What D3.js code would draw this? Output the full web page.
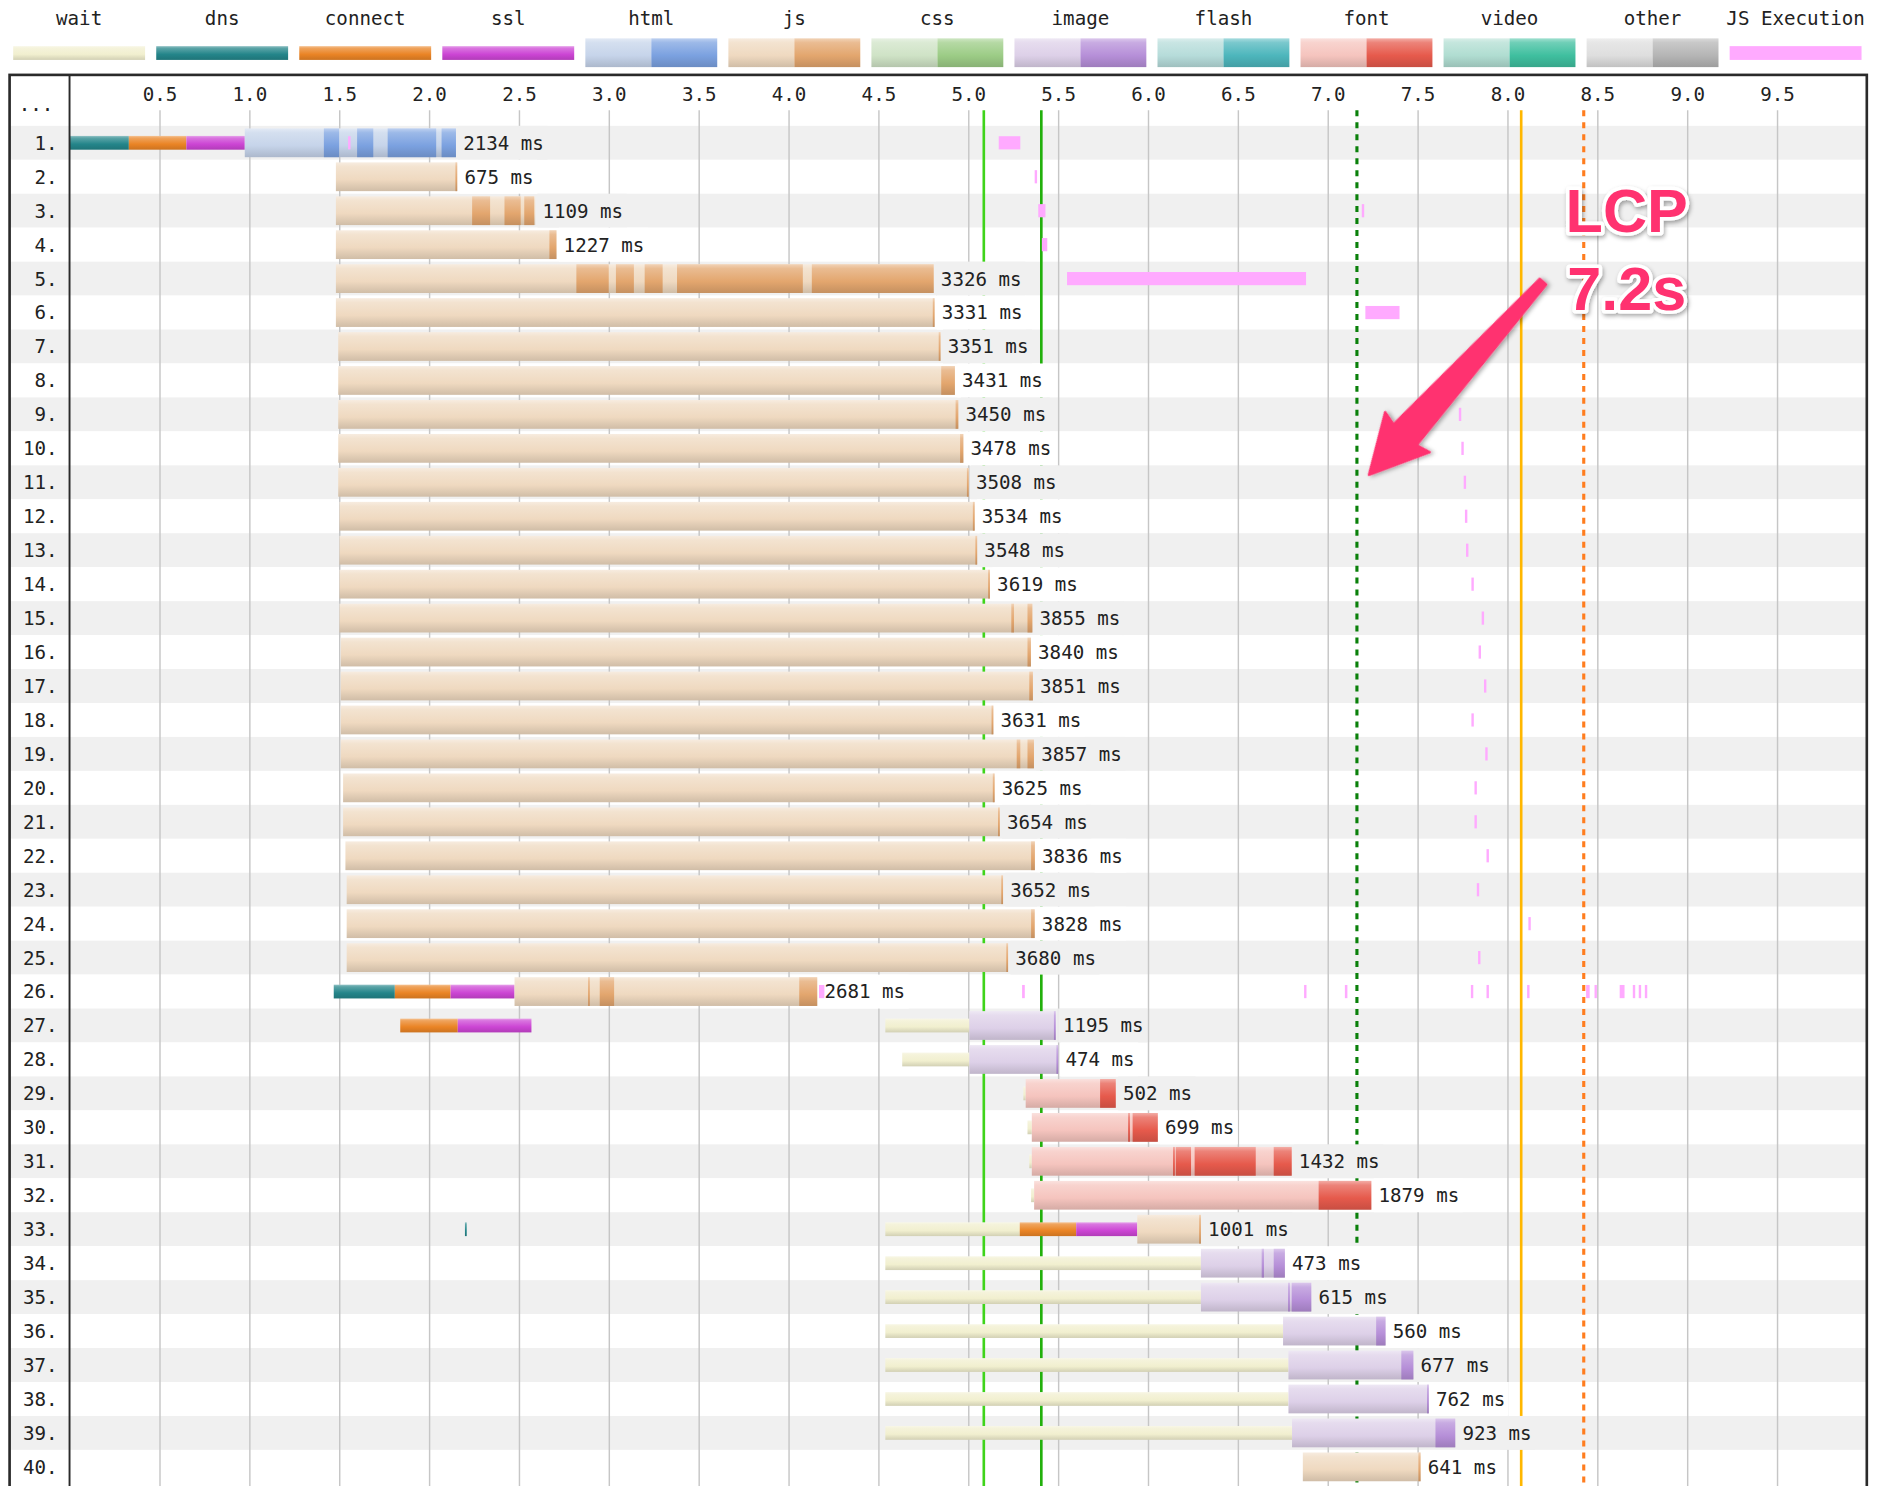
<!DOCTYPE html>
<html>
<head>
<meta charset="utf-8">
<script src="https://cdn.jsdelivr.net/npm/d3@7"></script>
<style>
  body { margin: 0; background: #fff; }
  text { font-family: "DejaVu Sans Mono", "Liberation Mono", monospace; }
</style>
</head>
<body>
<svg id="chart"></svg>
<script>
// ---- data (times in seconds) ----
const rows = d3.range(1, 41);
const totalMs = [2134, 675, 1109, 1227, 3326, 3331, 3351, 3431, 3450, 3478,
                 3508, 3534, 3548, 3619, 3855, 3840, 3851, 3631, 3857, 3625,
                 3654, 3836, 3652, 3828, 3680, 2681, 1195, 474, 502, 699,
                 1432, 1879, 1001, 473, 615, 560, 677, 762, 923, 641];
const tickValues = [0.5, 1.0, 1.5, 2.0, 2.5, 3.0, 3.5, 4.0, 4.5, 5.0, 5.5, 6.0, 6.5, 7.0, 7.5, 8.0, 8.5, 9.0, 9.5];
const legendKeys = ["wait", "dns", "connect", "ssl", "html", "js", "css", "image", "flash", "font", "video", "other", "JS Execution"];

// [row, start, end]
const waitTimes = [
  [27, 4.539, 5.007], [28, 4.633, 5.007], [29, 5.307, 5.32], [30, 5.33, 5.354], [31, 5.34, 5.354], [32, 5.35, 5.367],
  [33, 4.539, 5.287], [34, 4.539, 6.295], [35, 4.539, 6.295], [36, 4.539, 6.752], [37, 4.539, 6.782],
  [38, 4.539, 6.782], [39, 4.539, 6.802]
];
const dnsTimes = [[1, 0, 0.33], [26, 1.47, 1.81], [33, 2.2, 2.206]];
const connectTimes = [[1, 0.33, 0.65], [26, 1.81, 2.12], [27, 1.84, 2.16], [33, 5.287, 5.601]];
const sslTimes = [[1, 0.65, 0.975], [26, 2.12, 2.476], [27, 2.16, 2.57], [33, 5.601, 5.941]];

// [row, type, start, end]
const downloads = [
  [1, "html", 0.975, 2.15], [2, "js", 1.482, 2.157], [3, "js", 1.482, 2.591], [4, "js", 1.482, 2.709],
  [5, "js", 1.482, 4.808], [6, "js", 1.482, 4.813], [7, "js", 1.495, 4.846], [8, "js", 1.495, 4.926],
  [9, "js", 1.495, 4.945], [10, "js", 1.495, 4.973], [11, "js", 1.495, 5.003], [12, "js", 1.502, 5.036],
  [13, "js", 1.502, 5.05], [14, "js", 1.502, 5.121], [15, "js", 1.502, 5.357], [16, "js", 1.509, 5.349],
  [17, "js", 1.509, 5.36], [18, "js", 1.509, 5.14], [19, "js", 1.509, 5.366], [20, "js", 1.522, 5.147],
  [21, "js", 1.522, 5.176], [22, "js", 1.535, 5.371], [23, "js", 1.542, 5.194], [24, "js", 1.542, 5.37],
  [25, "js", 1.542, 5.222], [26, "js", 2.476, 4.16], [27, "image", 5.007, 5.487], [28, "image", 5.007, 5.501],
  [29, "font", 5.32, 5.821], [30, "font", 5.354, 6.055], [31, "font", 5.354, 6.80], [32, "font", 5.367, 7.243],
  [33, "js", 5.941, 6.295], [34, "image", 6.295, 6.762], [35, "image", 6.295, 6.909], [36, "image", 6.752, 7.322],
  [37, "image", 6.782, 7.477], [38, "image", 6.782, 7.563], [39, "image", 6.802, 7.71], [40, "js", 6.862, 7.517]
];

// data chunks (dark shade) [row, start, end]
const chunks = [
  [1, 1.415, 1.50], [1, 1.60, 1.69], [1, 1.77, 2.04], [1, 2.07, 2.15],
  [2, 2.147, 2.157], [3, 2.24, 2.34], [3, 2.42, 2.51], [3, 2.53, 2.585], [4, 2.67, 2.709],
  [5, 2.82, 3.0], [5, 3.04, 3.14], [5, 3.2, 3.3], [5, 3.38, 4.08], [5, 4.13, 4.808],
  [6, 4.803, 4.813], [7, 4.836, 4.846], [8, 4.85, 4.926], [9, 4.93, 4.945], [10, 4.955, 4.973],
  [11, 4.993, 5.003], [12, 5.026, 5.036], [13, 5.04, 5.05], [14, 5.111, 5.121],
  [15, 5.24, 5.255], [15, 5.33, 5.357], [16, 5.33, 5.349], [17, 5.34, 5.36], [18, 5.13, 5.14],
  [19, 5.27, 5.29], [19, 5.33, 5.366], [20, 5.137, 5.147], [21, 5.166, 5.176], [22, 5.35, 5.371],
  [23, 5.184, 5.194], [24, 5.35, 5.37], [25, 5.212, 5.222],
  [26, 2.885, 2.895], [26, 2.95, 3.03], [26, 4.06, 4.16],
  [27, 5.477, 5.487], [28, 5.491, 5.501], [29, 5.734, 5.821],
  [30, 5.89, 5.90], [30, 5.915, 6.055],
  [31, 6.14, 6.15], [31, 6.155, 6.24], [31, 6.26, 6.60], [31, 6.70, 6.80],
  [32, 6.95, 7.243], [33, 6.285, 6.295], [34, 6.633, 6.646], [34, 6.70, 6.762],
  [35, 6.78, 6.79], [35, 6.80, 6.909], [36, 7.27, 7.322], [37, 7.41, 7.477], [38, 7.553, 7.563],
  [39, 7.60, 7.71], [40, 7.505, 7.517]
];

// JS execution [row, start, end]
const jsExec = [
  [1, 1.55, 1.56], [1, 5.17, 5.29], [2, 5.37, 5.38], [3, 5.39, 5.43], [3, 7.19, 7.2], [4, 5.41, 5.44],
  [5, 5.55, 6.88], [6, 7.21, 7.40], [9, 7.73, 7.74], [10, 7.744, 7.754], [11, 7.757, 7.767],
  [12, 7.764, 7.774], [13, 7.77, 7.775], [14, 7.80, 7.81], [15, 7.857, 7.867], [16, 7.84, 7.85],
  [17, 7.87, 7.88], [18, 7.80, 7.805], [19, 7.877, 7.887], [20, 7.817, 7.825], [21, 7.817, 7.825],
  [22, 7.884, 7.89], [23, 7.83, 7.836], [24, 8.117, 8.12], [25, 7.837, 7.845],
  [26, 4.17, 4.20], [26, 5.30, 5.315], [26, 6.869, 6.874], [26, 7.096, 7.11], [26, 7.797, 7.80],
  [26, 7.884, 7.887], [26, 8.11, 8.113], [26, 8.438, 8.458], [26, 8.485, 8.49], [26, 8.625, 8.652],
  [26, 8.698, 8.702], [26, 8.731, 8.735], [26, 8.765, 8.772]
];

const markerTimes = [5.087, 5.407, 7.163, 8.077, 8.425];
const markerColors = ["#3fd41a", "#22b00c", "#0a800a", "#ffb700", "#ff7d1f"];
const markerDashed = [false, false, true, false, true];

// ---- colours ----
const baseColors = {
  wait: ["#f1efcf"], dns: ["#24858a"], connect: ["#ea8425"], ssl: ["#cc45d4"],
  html: ["#c6d4ea", "#7ba1e0"], js: ["#efd9c0", "#e3a66e"], css: ["#cfe3c6", "#9ccc86"],
  image: ["#ddd0e8", "#b68fd8"], flash: ["#b6dcda", "#4db6bc"], font: ["#f5c4be", "#e65a4c"],
  video: ["#b0ddd1", "#3fbf9f"], other: ["#dedede", "#b5b5b5"]
};
const jsExecColor = "#ffaaff";

// ---- layout (drawn in a 1568x1240 frame, scaled to the window) ----
const W = 1568, H = 1240;
const svg = d3.select("#chart")
  .attr("width", 1880).attr("height", 1486)
  .attr("viewBox", `0 0 ${W} ${H}`)
  .attr("preserveAspectRatio", "none");

const defs = svg.append("defs");
function addGrad(id, base) {
  const g = defs.append("linearGradient").attr("id", id)
    .attr("x1", 0).attr("y1", 0).attr("x2", 0).attr("y2", 1);
  g.append("stop").attr("offset", 0).attr("stop-color", d3.interpolateRgb(base, "#fff")(0.5));
  g.append("stop").attr("offset", 0.15).attr("stop-color", d3.interpolateRgb(base, "#fff")(0.25));
  g.append("stop").attr("offset", 0.6).attr("stop-color", base);
  g.append("stop").attr("offset", 1).attr("stop-color", d3.interpolateRgb(base, "#000")(0.13));
}
Object.entries(baseColors).forEach(([k, c]) => {
  if (c.length === 1) addGrad("g-" + k, c[0]);
  else { addGrad("g-" + k + "-l", c[0]); addGrad("g-" + k + "-d", c[1]); }
});
const shadow = defs.append("filter").attr("id", "shadow")
  .attr("x", "-20%").attr("y", "-20%").attr("width", "140%").attr("height", "140%");
shadow.append("feDropShadow").attr("dx", 1).attr("dy", 2).attr("stdDeviation", 1.6)
  .attr("flood-color", "#000").attr("flood-opacity", 0.35);

const x = d3.scaleLinear().domain([0, 10]).range([58, 1557]);
const y = d3.scaleBand().domain(rows).range([105, 105 + 40 * 28.33]);
const bw = y.bandwidth();
const thinH = 11.5, thickH = 24;

// legend
const legend = svg.append("g");
legendKeys.forEach((k, i) => {
  const gx = 11 + i * 119.3, w = 110;
  legend.append("text").attr("x", gx + w / 2).attr("y", 21)
    .attr("text-anchor", "middle").attr("font-size", 16).attr("fill", "#222").text(k);
  const c = baseColors[k];
  if (!c) {
    legend.append("rect").attr("x", gx).attr("y", 38.5).attr("width", w).attr("height", thinH).attr("fill", jsExecColor);
  } else if (c.length === 1) {
    legend.append("rect").attr("x", gx).attr("y", 38.5).attr("width", w).attr("height", thinH).attr("fill", `url(#g-${k})`);
  } else {
    legend.append("rect").attr("x", gx).attr("y", 32).attr("width", w / 2).attr("height", 24).attr("fill", `url(#g-${k}-l)`);
    legend.append("rect").attr("x", gx + w / 2).attr("y", 32).attr("width", w / 2).attr("height", 24).attr("fill", `url(#g-${k}-d)`);
  }
});

// row bands
svg.append("g").selectAll("rect").data(rows).join("rect")
  .attr("x", 8).attr("width", 1549)
  .attr("y", d => y(d)).attr("height", bw)
  .attr("fill", d => d % 2 ? "#f0f0f0" : "#fff");

// time axis + gridlines
const axis = d3.axisBottom(x).tickValues(tickValues).tickSize(H - 92).tickFormat(d3.format(".1f"));
const ag = svg.append("g").attr("transform", "translate(0,92)").call(axis)
  .attr("font-family", null).attr("font-size", null);
ag.select(".domain").remove();
ag.selectAll(".tick line").attr("stroke", "#c6c6c6").attr("stroke-width", 1.2);
ag.selectAll(".tick text").attr("y", -8).attr("dy", 0).attr("font-size", 16).attr("fill", "#222");

// event markers
svg.append("g").selectAll("line").data(markerTimes).join("line")
  .attr("x1", d => x(d)).attr("x2", d => x(d))
  .attr("y1", 92).attr("y2", H)
  .attr("stroke", (d, i) => markerColors[i])
  .attr("stroke-width", (d, i) => markerDashed[i] ? 2.6 : 2.2)
  .attr("stroke-dasharray", (d, i) => markerDashed[i] ? "5,5" : null);

// connection phases
const bars = svg.append("g");
function thinBars(data, key) {
  bars.append("g").selectAll("rect").data(data).join("rect")
    .attr("x", d => x(d[1])).attr("width", d => Math.max(1.5, x(d[2]) - x(d[1])))
    .attr("y", d => y(d[0]) + (bw - thinH) / 2).attr("height", thinH)
    .attr("fill", `url(#g-${key})`);
}
thinBars(waitTimes, "wait");
thinBars(dnsTimes, "dns");
thinBars(connectTimes, "connect");
thinBars(sslTimes, "ssl");

// downloads (light) and data chunks (dark)
const rowType = new Map(downloads.map(d => [d[0], d[1]]));
bars.append("g").selectAll("rect").data(downloads).join("rect")
  .attr("x", d => x(d[2])).attr("width", d => x(d[3]) - x(d[2]))
  .attr("y", d => y(d[0]) + (bw - thickH) / 2).attr("height", thickH)
  .attr("fill", d => `url(#g-${d[1]}-l)`);
bars.append("g").selectAll("rect").data(chunks).join("rect")
  .attr("x", d => x(d[1])).attr("width", d => Math.max(1.5, x(d[2]) - x(d[1])))
  .attr("y", d => y(d[0]) + (bw - thickH) / 2).attr("height", thickH)
  .attr("fill", d => `url(#g-${rowType.get(d[0])}-d)`);

// duration labels with background that hides the lines behind them
const allSegs = [...waitTimes, ...dnsTimes, ...connectTimes, ...sslTimes, ...chunks,
  ...downloads.map(d => [d[0], d[2], d[3]])];
const rowEnd = rows.map(r => d3.max(allSegs.filter(s => s[0] === r), s => s[2]));

const labelBg = svg.append("g");
const execLayer = svg.append("g");
const labelTxt = svg.append("g");

const texts = labelTxt.selectAll("text").data(rows).join("text")
  .attr("x", (d, i) => x(rowEnd[i]) + 6)
  .attr("y", d => y(d) + bw / 2).attr("dy", "0.36em")
  .attr("font-size", 16).attr("fill", "#222")
  .text((d, i) => totalMs[i] + " ms");
texts.each(function (d, i) {
  const len = this.getComputedTextLength();
  labelBg.append("rect")
    .attr("x", x(rowEnd[i]) + 2).attr("width", len + 7)
    .attr("y", y(d)).attr("height", bw)
    .attr("fill", d % 2 ? "#f0f0f0" : "#fff");
});

// JS execution
execLayer.selectAll("rect").data(jsExec).join("rect")
  .attr("x", d => x(d[1])).attr("width", d => Math.max(2, x(d[2]) - x(d[1])))
  .attr("y", d => y(d[0]) + (bw - 11) / 2).attr("height", 11)
  .attr("fill", jsExecColor);

// row numbers
svg.append("g").selectAll("text").data(rows).join("text")
  .attr("x", 48).attr("y", d => y(d) + bw / 2).attr("dy", "0.36em")
  .attr("text-anchor", "end").attr("font-size", 16).attr("fill", "#222")
  .text(d => d + ".");
svg.append("text").attr("x", 30).attr("y", 93).attr("text-anchor", "middle")
  .attr("font-size", 16).attr("fill", "#222").text("...");

// frame
svg.append("rect").attr("x", 8).attr("y", 62.5).attr("width", 1549).attr("height", H)
  .attr("fill", "none").attr("stroke", "#2a2a2a").attr("stroke-width", 2.2);
svg.append("line").attr("x1", 58).attr("x2", 58).attr("y1", 62.5).attr("y2", H)
  .attr("stroke", "#2a2a2a").attr("stroke-width", 1.6);

// LCP annotation
const tipX = x(markerTimes[2]) + 10, tipY = y(11) + 8;
const note = svg.append("g").attr("transform", `translate(${tipX},${tipY})`);
const arrowPts = [[0, 0], [48, -25], [45, -13], [217, -3.5], [217, 3.5], [45, 13], [48, 25]];
note.append("polygon")
  .attr("points", arrowPts.map(p => p.join(",")).join(" "))
  .attr("transform", "rotate(-48)")
  .attr("fill", "#ff3370").attr("stroke", "#ff3370").attr("stroke-width", 2).attr("stroke-linejoin", "round")
  .attr("filter", "url(#shadow)");
[["LCP", -203], ["7.2s", -138]].forEach(([t, dy]) => {
  note.append("text").attr("x", 215).attr("y", dy)
    .attr("text-anchor", "middle")
    .style("font-family", "'Liberation Sans', Arial, sans-serif")
    .attr("font-weight", "bold").attr("font-size", 51)
    .attr("fill", "#ff3370").attr("stroke", "#fff").attr("stroke-width", 6)
    .attr("stroke-linejoin", "round").attr("paint-order", "stroke")
    .attr("filter", "url(#shadow)")
    .text(t);
});
</script>
</body>
</html>
